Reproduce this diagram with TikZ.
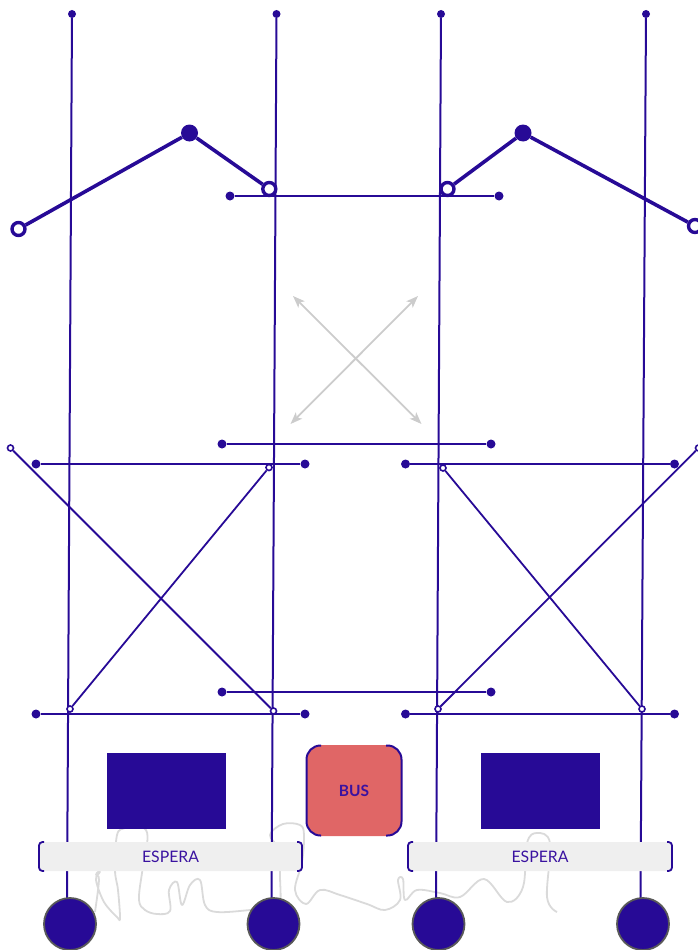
\documentclass[tikz,border=0pt]{standalone}
\usepackage{fontspec}
\usetikzlibrary{arrows.meta}
\setmainfont{Lato}
\definecolor{navy}{HTML}{270A96}
\definecolor{bustxt}{HTML}{3A12A0}
\definecolor{pale}{HTML}{EFEFEF}
\definecolor{soft}{HTML}{DADADA}
\definecolor{arrowgray}{HTML}{CCCCCC}
\definecolor{busred}{HTML}{E06666}
\begin{document}
\begin{tikzpicture}[x=1pt,y=-1pt,
  rail/.style={draw=navy,line width=2pt},
  bar/.style={draw=navy,line width=2pt},
  link/.style={draw=navy,line width=1.8pt},
  roofline/.style={draw=navy,line width=3.6pt},
  dot/.style={circle,fill=navy,inner sep=0pt,minimum size=#1},
  ring/.style={circle,draw=navy,fill=white,inner sep=0pt,line width=1.6pt,minimum size=6pt},
  bigring/.style={circle,draw=navy,fill=white,inner sep=0pt,line width=3.4pt,minimum size=13pt},
  wheel/.style={circle,draw=black!65,fill=navy,inner sep=0pt,line width=1.8pt,minimum size=52pt},
  block/.style={fill=navy,inner sep=0pt,minimum width=119pt,minimum height=76pt},
  waitbar/.style={fill=pale,rounded corners=3pt,inner sep=0pt,minimum width=263pt,minimum height=29pt,text=bustxt,font=\fontsize{15.8}{17}\selectfont},
  gray arrow/.style={draw=arrowgray,line width=1.8pt,{Stealth[length=12pt,width=9pt,inset=3pt]}-{Stealth[length=12pt,width=9pt,inset=3pt]}},
  bracket/.style={draw=navy,line width=1.8pt,rounded corners=3.5pt}
]
\useasboundingbox (0,0) rectangle (697,950);
% scribble (behind everything)
\draw[soft,line width=1.8pt,line join=round] plot[smooth,tension=0.6] coordinates {
 (95,912)(99,880)(96,875)(98,872)(100,872)(96,880)(104,902)(117,917)(120,918)(118,890)(115,870)(117,835)(125,828)(135,826)(146,830)(147,845)(142,873)(139,900)(145,910)(157,914)(170,911)(169,890)(177,882)(182,905)(190,885)(200,880)(205,905)(217,912)(250,910)(272,907)(280,903)(280,877)(279,850)(270,835)(283,824)(300,825)(304,835)(302,862)(295,890)(306,904)(320,890)(340,895)(367,904)(385,910)(400,900)(398,880)(403,879)(405,900)(417,890)(440,893)(460,897)(484,879)(507,902)(523,887)(527,843)(537,833)(550,843)(547,897)(557,912)};
% vertical rails
\node[dot=8pt] (r1t) at (72,14) {};
\node[dot=8pt] (r2t) at (276.5,14) {};
\node[dot=8pt] (r3t) at (441,14) {};
\node[dot=8pt] (r4t) at (646,14) {};
\coordinate (r1b) at (67,900);
\coordinate (r2b) at (271.5,900);
\coordinate (r3b) at (436,900);
\coordinate (r4b) at (640.5,900);
\draw[rail] (r1t)--(r1b);
\draw[rail] (r2t)--(r2b);
\draw[rail] (r3t)--(r3b);
\draw[rail] (r4t)--(r4b);
% horizontal bars
\foreach \n/\xa/\ya/\xb/\yb in {a/230/196/499/196,b/222/444/491/444,c/222/692/491/692,d/36/464/305/464,e/405.5/464/674.5/464,f/36/714/305/714,g/405.5/714/674.5/714}{
  \node[dot=9pt] (\n1) at (\xa,\ya) {};
  \node[dot=9pt] (\n2) at (\xb,\yb) {};
  \draw[bar] (\n1)--(\n2);
}
% crossing links
\node[ring] (c1a) at (10.5,448) {};
\node[ring] (c1b) at (273.5,711) {};
\node[ring] (c2a) at (269,467.5) {};
\node[ring] (c2b) at (70,709) {};
\node[ring] (c3a) at (443,468) {};
\node[ring] (c3b) at (642,709) {};
\node[ring] (c4a) at (698.5,448) {};
\node[ring] (c4b) at (438,709) {};
\draw[link] (c1a)--(c1b);
\draw[link] (c2a)--(c2b);
\draw[link] (c3a)--(c3b);
\draw[link] (c4a)--(c4b);
% roofs
\node[bigring] (l1) at (18.5,229) {};
\node[dot=17pt] (l2) at (189.5,133) {};
\node[bigring] (l3) at (269.3,189) {};
\node[bigring] (h1) at (447.5,189) {};
\node[dot=17pt] (h2) at (523,133) {};
\node[bigring] (h3) at (695,226) {};
\draw[roofline] (l1)--(l2)--(l3);
\draw[roofline] (h1)--(h2)--(h3);
% gray cross arrows
\coordinate (g1) at (293,296);
\coordinate (g2) at (421.5,424);
\coordinate (g3) at (418,296);
\coordinate (g4) at (290.5,424);
\draw[gray arrow] (g1)--(g2);
\draw[gray arrow] (g3)--(g4);
% blocks
\node[block] (bl) at (166.5,791) {};
\node[block] (br) at (540.5,791) {};
% bus
\node[fill=busred,rounded corners=15pt,inner sep=0pt,minimum width=95pt,minimum height=91pt,text=bustxt,font=\bfseries\fontsize{15.5}{17}\selectfont] (bus) at (354,790.5) {BUS};
\draw[bracket,rounded corners=14pt,line width=2pt] (321,745.5) -- (306.5,745.5) -- (306.5,835.5) -- (321,835.5);
\draw[bracket,rounded corners=14pt,line width=2pt] (386,745.5) -- (401.5,745.5) -- (401.5,835.5) -- (386,835.5);
% waiting bars
\node[waitbar] (w1) at (170.5,856.5) {ESPERA};
\node[waitbar] (w2) at (540,856.5) {ESPERA};
\draw[bracket] (44,842) -- (39,842) -- (39,871) -- (44,871);
\draw[bracket] (297,842) -- (302,842) -- (302,871) -- (297,871);
\draw[bracket] (413,842) -- (408,842) -- (408,871) -- (413,871);
\draw[bracket] (667,842) -- (672,842) -- (672,871) -- (667,871);
% wheels
\node[wheel] (c1) at (70,924) {};
\node[wheel] (c2) at (273.5,924) {};
\node[wheel] (c3) at (438.5,924) {};
\node[wheel] (c4) at (643,924) {};
\end{tikzpicture}
\end{document}
